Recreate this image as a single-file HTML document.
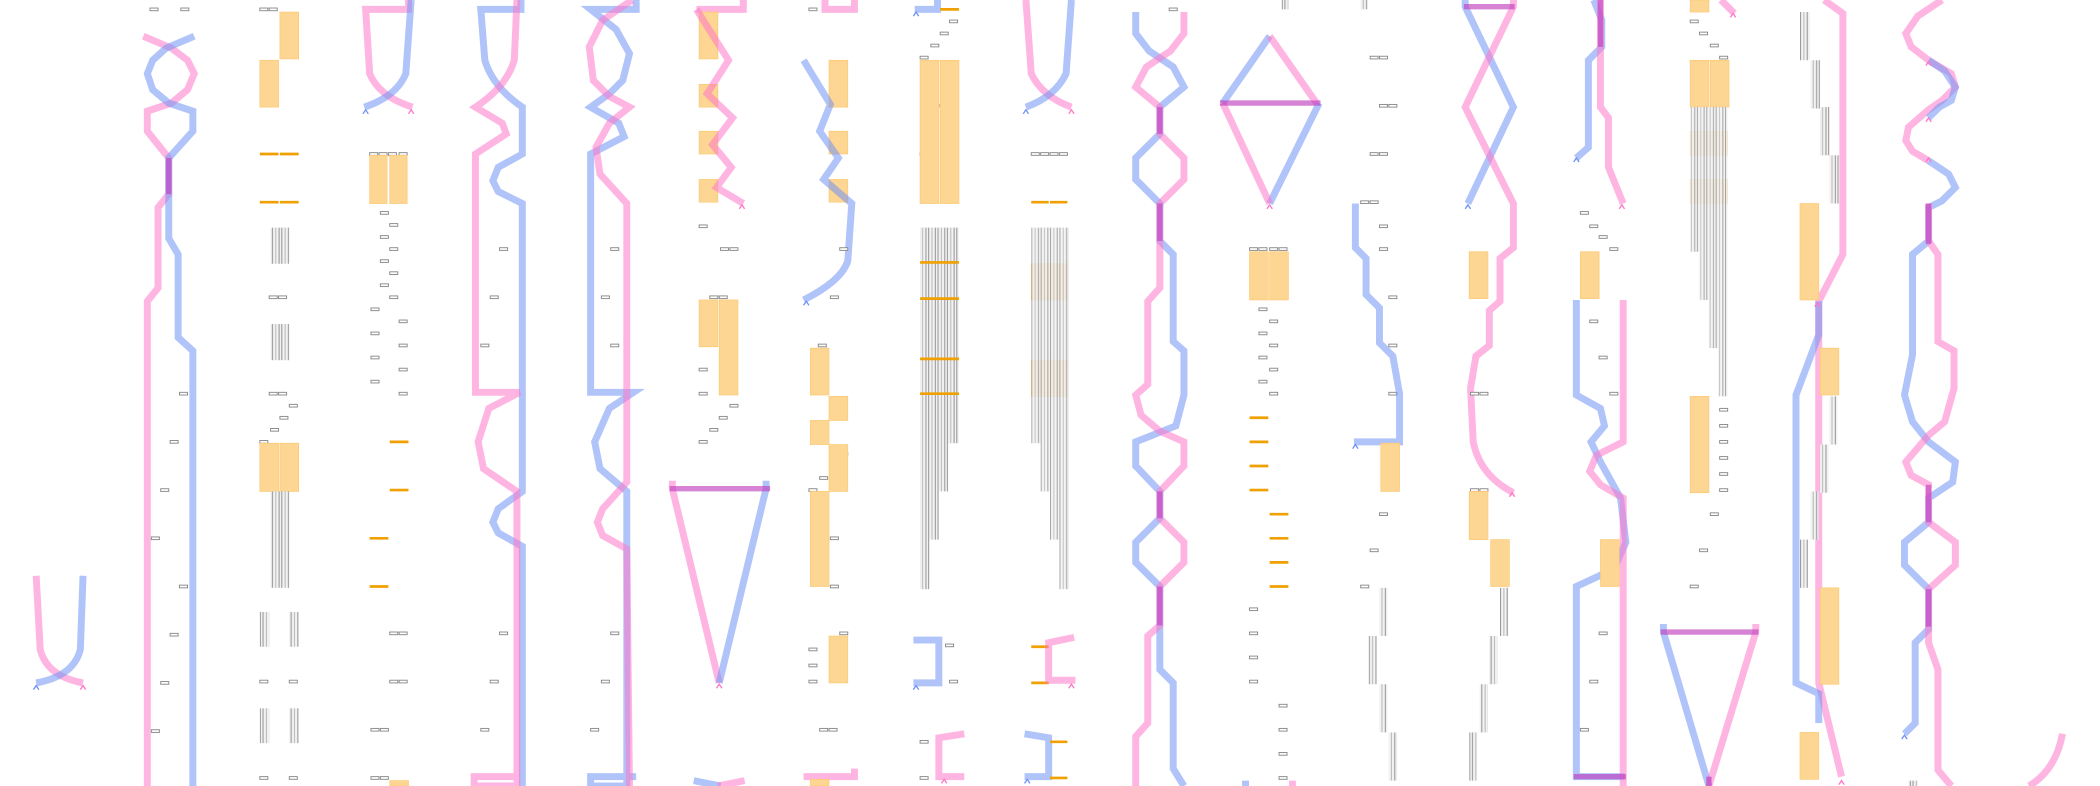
<!DOCTYPE html>
<html><head><meta charset="utf-8"><style>
html,body{margin:0;padding:0;background:#fff;width:2100px;height:786px;overflow:hidden}
svg{display:block}
.p{fill:none;stroke:#ff78c8;stroke-opacity:.55;stroke-width:5.2;stroke-linejoin:miter}
.b{fill:none;stroke:#6f93f5;stroke-opacity:.55;stroke-width:5.2;stroke-linejoin:miter}
.m{fill:none;stroke:#c040c0;stroke-opacity:.65;stroke-width:6}
.o{fill:#fed693;stroke:#fbc870;stroke-width:.5}
.ol{stroke:#f0a000;stroke-width:2}
.s{fill:#fff;stroke:#888;stroke-width:.7}
.g{fill:url(#gp)}
.ap{fill:none;stroke:#ff78c8;stroke-width:1}
.ab{fill:none;stroke:#6f93f5;stroke-width:1}
</style></head><body>
<svg width="2100" height="786" viewBox="0 0 1568 587" preserveAspectRatio="none" xmlns="http://www.w3.org/2000/svg">
<defs>
<pattern id="gp" width="7" height="10" patternUnits="userSpaceOnUse">
<rect width="7" height="10" fill="#f2f2f2"/>
<rect x="0" width="0.8" height="10" fill="#999"/>
<rect x="2.5" width="0.8" height="10" fill="#bbb"/>
<rect x="5" width="0.8" height="10" fill="#999"/>
</pattern>
</defs>

<!-- col1 -->
<path class="p" d="M27,430 L30,485 Q35,505 62,510"/>
<path class="b" d="M62,430 L60,485 Q55,505 27,510"/>
<path class="ab" d="M25,515 l2,-3 l2,3"/><path class="ap" d="M60,515 l2,-3 l2,3"/>

<!-- col2 -->
<g class="s"><rect x="112" y="6" width="6" height="2"/><rect x="135" y="6" width="6" height="2"/></g>
<path class="p" d="M107,27 L128,36 L140,45 L145,55 L140,67 L128,77 L110,83 L110,98 L126,118 L126,145 L118,155 L118,215 L110,225 L110,587"/>
<path class="b" d="M145,27 L124,36 L114,45 L110,55 L114,67 L126,77 L144,83 L144,98 L126,118 L126,178 L133,190 L133,252 L144,262 L144,587"/>
<path class="m" d="M126,118 L126,145" style="stroke-width:4"/>
<g class="s"><rect x="134" y="293" width="6" height="2"/><rect x="127" y="329" width="6" height="2"/><rect x="120" y="365" width="6" height="2"/><rect x="113" y="401" width="6" height="2"/><rect x="134" y="437" width="6" height="2"/><rect x="127" y="473" width="6" height="2"/><rect x="120" y="509" width="6" height="2"/><rect x="113" y="545" width="6" height="2"/></g>

<!-- col3 -->
<g class="s"><rect x="194" y="6" width="6" height="2"/><rect x="201" y="6" width="6" height="2"/></g>
<rect class="o" x="209" y="9" width="14" height="35"/><rect class="o" x="194" y="45" width="14" height="35"/>
<line class="ol" x1="194" y1="115" x2="208" y2="115"/><line class="ol" x1="209" y1="115" x2="223" y2="115"/>
<line class="ol" x1="194" y1="151" x2="208" y2="151"/><line class="ol" x1="209" y1="151" x2="223" y2="151"/>
<rect class="g" x="202" y="170" width="14" height="27"/><rect class="g" x="202" y="242" width="14" height="27"/>
<g class="s"><rect x="201" y="221" width="6" height="2"/><rect x="208" y="221" width="6" height="2"/><rect x="201" y="293" width="6" height="2"/><rect x="208" y="293" width="6" height="2"/><rect x="216" y="302" width="6" height="2"/><rect x="209" y="311" width="6" height="2"/><rect x="202" y="320" width="6" height="2"/><rect x="194" y="329" width="6" height="2"/></g>
<rect class="o" x="194" y="331" width="14" height="36"/><rect class="o" x="209" y="331" width="14" height="36"/>
<rect class="g" x="202" y="367" width="14" height="72"/>
<rect class="g" x="194" y="457" width="7" height="26"/><rect class="g" x="216" y="457" width="7" height="26"/>
<rect class="g" x="194" y="529" width="7" height="26"/><rect class="g" x="216" y="529" width="7" height="26"/>
<g class="s"><rect x="194" y="508" width="6" height="2"/><rect x="216" y="508" width="6" height="2"/><rect x="194" y="580" width="6" height="2"/><rect x="216" y="580" width="6" height="2"/></g>

<!-- col4 -->
<path class="p" d="M305,0 L305,7 L273,7 L276,55 Q283,72 308,80"/>
<path class="b" d="M307,0 L303,55 Q296,72 272,80"/>
<path class="ab" d="M271,85 l2,-3 l2,3"/><path class="ap" d="M305,85 l2,-3 l2,3"/>
<g class="s"><rect x="276" y="114" width="6" height="2"/><rect x="283" y="114" width="6" height="2"/><rect x="290" y="114" width="6" height="2"/><rect x="298" y="114" width="6" height="2"/></g>
<rect class="o" x="276" y="116" width="13" height="36"/><rect class="o" x="291" y="116" width="13" height="36"/>
<g class="s"><rect x="284" y="158" width="6" height="2"/><rect x="291" y="167" width="6" height="2"/><rect x="284" y="176" width="6" height="2"/><rect x="291" y="185" width="6" height="2"/><rect x="284" y="194" width="6" height="2"/><rect x="291" y="203" width="6" height="2"/><rect x="284" y="212" width="6" height="2"/><rect x="291" y="221" width="6" height="2"/><rect x="277" y="230" width="6" height="2"/><rect x="298" y="239" width="6" height="2"/><rect x="277" y="248" width="6" height="2"/><rect x="298" y="257" width="6" height="2"/><rect x="277" y="266" width="6" height="2"/><rect x="298" y="275" width="6" height="2"/><rect x="277" y="284" width="6" height="2"/><rect x="298" y="293" width="6" height="2"/></g>
<line class="ol" x1="291" y1="330" x2="305" y2="330"/><line class="ol" x1="291" y1="366" x2="305" y2="366"/>
<line class="ol" x1="276" y1="402" x2="290" y2="402"/><line class="ol" x1="276" y1="438" x2="290" y2="438"/>
<g class="s"><rect x="291" y="472" width="6" height="2"/><rect x="298" y="472" width="6" height="2"/><rect x="291" y="508" width="6" height="2"/><rect x="298" y="508" width="6" height="2"/><rect x="277" y="544" width="6" height="2"/><rect x="284" y="544" width="6" height="2"/><rect x="277" y="580" width="6" height="2"/><rect x="284" y="580" width="6" height="2"/></g>
<rect class="o" x="291" y="583" width="14" height="4"/>

<!-- col5 -->
<path class="b" d="M389,0 L389,7 L359,7 L362,45 Q368,65 390,80 L390,115 L372,125 L368,135 L372,143 L390,152 L390,367 L372,380 L368,390 L372,398 L390,408 L390,587"/>
<path class="p" d="M386,0 L384,45 Q378,65 355,80 L375,92 L378,100 L355,115 L355,293 L388,293 L365,305 L357,330 L361,350 L386,367 L386,587 L354,587 L354,580 L388,580"/>
<g class="s"><rect x="373" y="185" width="6" height="2"/><rect x="366" y="221" width="6" height="2"/><rect x="359" y="257" width="6" height="2"/><rect x="373" y="472" width="6" height="2"/><rect x="366" y="508" width="6" height="2"/><rect x="359" y="544" width="6" height="2"/></g>

<!-- col6 -->
<path class="b" d="M475,0 L475,7 L441,7 L460,22 L470,40 L465,60 L455,70 L441,80 L462,92 L466,102 L441,115 L441,293 L473,293 L455,305 L444,330 L448,350 L468,367 L468,587 L441,587 L441,580 L475,580"/>
<path class="p" d="M472,0 L450,15 L440,35 L443,60 L455,72 L470,80 L455,92 L445,110 L448,130 L468,152 L468,293 L468,360 L450,380 L446,390 L450,400 L468,410 L470,587"/>
<g class="s"><rect x="456" y="185" width="6" height="2"/><rect x="449" y="221" width="6" height="2"/><rect x="456" y="257" width="6" height="2"/><rect x="456" y="472" width="6" height="2"/><rect x="449" y="508" width="6" height="2"/><rect x="441" y="544" width="6" height="2"/></g>

<!-- col7 -->
<path class="p" d="M555,0 L555,7 L520,7"/>
<rect class="o" x="522" y="9" width="14" height="35"/><rect class="o" x="522" y="63" width="14" height="17"/><rect class="o" x="522" y="98" width="14" height="17"/><rect class="o" x="522" y="134" width="14" height="17"/>
<path class="p" d="M520,7 L544,45 L528,70 L547,88 L532,108 L546,125 L535,140 L555,152"/>
<path class="ap" d="M552,156 l2,-3 l2,3"/>
<g class="s"><rect x="522" y="168" width="6" height="2"/><rect x="538" y="185" width="6" height="2"/><rect x="545" y="185" width="6" height="2"/><rect x="530" y="221" width="6" height="2"/><rect x="537" y="221" width="6" height="2"/><rect x="522" y="275" width="6" height="2"/><rect x="522" y="293" width="6" height="2"/><rect x="545" y="302" width="6" height="2"/><rect x="537" y="311" width="6" height="2"/><rect x="530" y="320" width="6" height="2"/><rect x="522" y="329" width="6" height="2"/></g>
<rect class="o" x="522" y="224" width="14" height="35"/><rect class="o" x="537" y="224" width="14" height="71"/>
<path class="p" d="M502,359 L502,365 L537,510"/>
<path class="b" d="M572,359 L572,365 L537,510"/>
<path class="m" d="M500,365 L575,365" style="stroke-width:4"/>
<path class="ap" d="M535,514 l2,-3 l2,3"/>
<path class="b" d="M518,583 L538,587"/><path class="p" d="M556,583 L536,587"/>

<!-- col8 -->
<path class="p" d="M638,0 L638,7 L616,7 L616,0"/>
<rect class="o" x="619" y="45" width="14" height="35"/><rect class="o" x="619" y="98" width="14" height="17"/><rect class="o" x="619" y="134" width="14" height="17"/>
<path class="b" d="M600,45 L620,78 L612,98 L626,118 L615,134 L636,152 L633,195 Q628,210 600,224"/>
<path class="ab" d="M600,228 l2,-3 l2,3"/>
<g class="s"><rect x="604" y="6" width="6" height="2"/><rect x="620" y="221" width="6" height="2"/><rect x="627" y="185" width="6" height="2"/><rect x="611" y="257" width="6" height="2"/><rect x="627" y="338" width="6" height="2"/><rect x="620" y="347" width="6" height="2"/><rect x="612" y="356" width="6" height="2"/><rect x="604" y="365" width="6" height="2"/><rect x="612" y="383" width="6" height="2"/><rect x="620" y="401" width="6" height="2"/><rect x="612" y="419" width="6" height="2"/><rect x="620" y="437" width="6" height="2"/><rect x="627" y="472" width="6" height="2"/><rect x="604" y="484" width="6" height="2"/><rect x="604" y="496" width="6" height="2"/><rect x="604" y="508" width="6" height="2"/><rect x="612" y="544" width="6" height="2"/><rect x="619" y="544" width="6" height="2"/></g>
<rect class="o" x="605" y="260" width="14" height="35"/><rect class="o" x="619" y="296" width="14" height="18"/><rect class="o" x="605" y="314" width="14" height="18"/><rect class="o" x="619" y="332" width="14" height="35"/><rect class="o" x="605" y="367" width="14" height="71"/><rect class="o" x="619" y="475" width="14" height="35"/>
<path class="p" d="M600,580 L638,580 L638,574"/><rect class="o" x="605" y="582" width="14" height="5"/>

<!-- col9 -->
<path class="b" d="M700,0 L700,7 L683,7"/><path class="ab" d="M682,12 l2,-3 l2,3"/>
<line class="ol" x1="702" y1="7" x2="716" y2="7"/>
<g class="s"><rect x="709" y="15" width="6" height="2"/><rect x="702" y="24" width="6" height="2"/><rect x="695" y="33" width="6" height="2"/><rect x="687" y="42" width="6" height="2"/><rect x="695" y="78" width="6" height="2"/><rect x="702" y="78" width="6" height="2"/><rect x="687" y="114" width="6" height="2"/><rect x="709" y="114" width="6" height="2"/></g>
<rect class="o" x="687" y="45" width="14" height="107"/><rect class="o" x="702" y="45" width="14" height="107"/>
<rect class="g" x="687" y="170" width="7" height="270"/><rect class="g" x="694" y="170" width="7" height="233"/><rect class="g" x="701" y="170" width="7" height="197"/><rect class="g" x="708" y="170" width="8" height="161"/>
<g class="ol"><line x1="687" y1="196" x2="716" y2="196"/><line x1="687" y1="223" x2="716" y2="223"/><line x1="687" y1="268" x2="716" y2="268"/><line x1="687" y1="294" x2="716" y2="294"/></g>
<path class="b" d="M682,478 L701,478 L701,510 L682,510"/><path class="ab" d="M682,515 l2,-3 l2,3"/>
<g class="s"><rect x="706" y="481" width="6" height="2"/><rect x="709" y="508" width="6" height="2"/><rect x="687" y="553" width="6" height="2"/><rect x="687" y="580" width="6" height="2"/></g>
<path class="p" d="M720,548 L701,551 L701,580 L720,580"/><path class="ap" d="M703,585 l2,-3 l2,3"/>

<!-- col10 -->
<path class="p" d="M766,0 L770,55 Q778,72 800,80"/>
<path class="b" d="M800,0 L796,55 Q788,72 766,80"/>
<path class="ab" d="M764,85 l2,-3 l2,3"/><path class="ap" d="M798,85 l2,-3 l2,3"/>
<g class="s"><rect x="770" y="114" width="6" height="2"/><rect x="777" y="114" width="6" height="2"/><rect x="784" y="114" width="6" height="2"/><rect x="791" y="114" width="6" height="2"/></g>
<line class="ol" x1="770" y1="151" x2="783" y2="151"/><line class="ol" x1="784" y1="151" x2="797" y2="151"/>
<rect class="o" x="770" y="197" width="27" height="27"/><rect class="o" x="770" y="269" width="27" height="27"/>
<rect class="g" x="770" y="170" width="7" height="161" style="opacity:.85"/><rect class="g" x="777" y="170" width="7" height="197" style="opacity:.85"/><rect class="g" x="784" y="170" width="7" height="233" style="opacity:.85"/><rect class="g" x="791" y="170" width="7" height="270" style="opacity:.85"/>
<line class="ol" x1="770" y1="483" x2="783" y2="483"/><line class="ol" x1="770" y1="510" x2="783" y2="510"/>
<path class="p" d="M802,476 L783,480 L783,508 L803,508"/><path class="ap" d="M798,514 l2,-3 l2,3"/>
<path class="b" d="M765,548 L783,551 L783,580 L765,580"/><path class="ab" d="M765,585 l2,-3 l2,3"/>
<line class="ol" x1="784" y1="554" x2="797" y2="554"/><line class="ol" x1="784" y1="581" x2="797" y2="581"/>

<!-- col11 -->
<g class="s"><rect x="873" y="6" width="6" height="2"/></g>
<path class="b" d="M848,9 L848,25 L858,38 L876,50 L884,65 L866,80 L866,100 L848,118 L848,134 L866,152 L866,180 L876,190 L876,255 L884,262 L884,295 L878,318 L848,330 L848,348 L866,367 L866,387 L848,405 L848,420 L866,438 L866,500 L876,510 L876,574 L884,587"/>
<path class="p" d="M884,9 L884,25 L874,38 L856,50 L848,65 L866,80 L866,100 L884,118 L884,134 L866,152 L866,180 L866,215 L857,225 L857,287 L848,295 L852,310 L866,322 L884,330 L884,348 L866,367 L866,387 L884,405 L884,420 L866,438 L866,467 L857,475 L857,540 L848,550 L848,587"/>
<path class="m" d="M866,80 L866,100 M866,152 L866,180 M866,367 L866,387 M866,438 L866,467" style="stroke-width:4"/>

<!-- col12 -->
<rect class="g" x="957" y="0" width="5" height="7"/>
<path class="b" d="M948,27 L913,77 M985,77 L948,152"/>
<path class="p" d="M948,27 L983,77 M913,77 L948,152"/>
<path class="m" d="M911,77 L986,77" style="stroke-width:4"/>
<path class="ap" d="M946,156 l2,-3 l2,3"/>
<g class="s"><rect x="933" y="185" width="6" height="2"/><rect x="940" y="185" width="6" height="2"/><rect x="948" y="185" width="6" height="2"/><rect x="955" y="185" width="6" height="2"/><rect x="940" y="230" width="6" height="2"/><rect x="948" y="239" width="6" height="2"/><rect x="940" y="248" width="6" height="2"/><rect x="948" y="257" width="6" height="2"/><rect x="940" y="266" width="6" height="2"/><rect x="948" y="275" width="6" height="2"/><rect x="940" y="284" width="6" height="2"/><rect x="948" y="293" width="6" height="2"/><rect x="933" y="454" width="6" height="2"/><rect x="933" y="472" width="6" height="2"/><rect x="933" y="490" width="6" height="2"/><rect x="933" y="508" width="6" height="2"/><rect x="955" y="526" width="6" height="2"/><rect x="955" y="544" width="6" height="2"/><rect x="955" y="562" width="6" height="2"/><rect x="955" y="580" width="6" height="2"/></g>
<rect class="o" x="933" y="188" width="14" height="36"/><rect class="o" x="948" y="188" width="14" height="36"/>
<g class="ol"><line x1="933" y1="312" x2="947" y2="312"/><line x1="933" y1="330" x2="947" y2="330"/><line x1="933" y1="348" x2="947" y2="348"/><line x1="933" y1="366" x2="947" y2="366"/><line x1="948" y1="384" x2="962" y2="384"/><line x1="948" y1="402" x2="962" y2="402"/><line x1="948" y1="420" x2="962" y2="420"/><line x1="948" y1="438" x2="962" y2="438"/></g>
<path class="b" d="M930,583 L930,587"/><path class="p" d="M965,583 L965,587"/>

<!-- col13 -->
<rect class="g" x="1016" y="0" width="5" height="7"/>
<g class="s"><rect x="1023" y="42" width="6" height="2"/><rect x="1030" y="42" width="6" height="2"/><rect x="1030" y="78" width="6" height="2"/><rect x="1037" y="78" width="6" height="2"/><rect x="1023" y="114" width="6" height="2"/><rect x="1030" y="114" width="6" height="2"/><rect x="1016" y="150" width="6" height="2"/><rect x="1023" y="150" width="6" height="2"/><rect x="1030" y="168" width="6" height="2"/><rect x="1030" y="185" width="6" height="2"/><rect x="1037" y="221" width="6" height="2"/><rect x="1037" y="257" width="6" height="2"/><rect x="1037" y="293" width="6" height="2"/><rect x="1030" y="383" width="6" height="2"/><rect x="1023" y="410" width="6" height="2"/><rect x="1016" y="437" width="6" height="2"/></g>
<path class="b" d="M1012,152 L1012,185 L1020,193 L1020,220 L1030,230 L1030,256 L1040,266 L1045,294 L1045,330 L1011,330"/>
<path class="ab" d="M1010,335 l2,-3 l2,3"/>
<rect class="o" x="1031" y="331" width="14" height="36"/>
<rect class="g" x="1030" y="439" width="6" height="36"/><rect class="g" x="1022" y="475" width="6" height="36"/><rect class="g" x="1030" y="511" width="6" height="36"/><rect class="g" x="1037" y="547" width="6" height="36"/>

<!-- col14 -->
<path class="b" d="M1094,0 L1094,5 L1130,80 L1096,152"/>
<path class="p" d="M1130,0 L1130,5 L1094,80 L1130,152 L1130,185 L1120,193 L1120,225 L1112,232 L1112,258 L1102,266 L1098,290 L1100,330 Q1105,355 1130,368"/>
<path class="m" d="M1093,5 L1131,5" style="stroke-width:4"/>
<path class="ab" d="M1094,156 l2,-3 l2,3"/><path class="ap" d="M1127,371 l2,-3 l2,3"/>
<rect class="o" x="1097" y="188" width="14" height="35"/>
<g class="s"><rect x="1098" y="293" width="6" height="2"/><rect x="1105" y="293" width="6" height="2"/><rect x="1098" y="365" width="6" height="2"/><rect x="1105" y="365" width="6" height="2"/></g>
<rect class="o" x="1097" y="367" width="14" height="36"/><rect class="o" x="1113" y="403" width="14" height="35"/>
<rect class="g" x="1120" y="439" width="6" height="36"/><rect class="g" x="1112" y="475" width="6" height="36"/><rect class="g" x="1105" y="511" width="6" height="36"/><rect class="g" x="1097" y="547" width="6" height="36"/>

<!-- col15 -->
<path class="b" d="M1190,0 L1196,15 L1196,35 L1186,45 L1186,110 L1177,118"/>
<path class="p" d="M1195,0 L1195,80 L1201,88 L1201,125 L1212,152"/>
<path class="m" d="M1195,0 L1195,35" style="stroke-width:4"/>
<path class="ab" d="M1175,121 l2,-3 l2,3"/><path class="ap" d="M1209,156 l2,-3 l2,3"/>
<g class="s"><rect x="1180" y="158" width="6" height="2"/><rect x="1187" y="168" width="6" height="2"/><rect x="1194" y="176" width="6" height="2"/><rect x="1202" y="185" width="6" height="2"/><rect x="1187" y="239" width="6" height="2"/><rect x="1194" y="266" width="6" height="2"/><rect x="1202" y="293" width="6" height="2"/><rect x="1194" y="472" width="6" height="2"/><rect x="1187" y="508" width="6" height="2"/><rect x="1180" y="544" width="6" height="2"/></g>
<rect class="o" x="1180" y="188" width="14" height="35"/>
<path class="b" d="M1177,224 L1177,295 L1195,305 L1198,318 L1188,330 L1195,345 L1210,372 L1214,405 L1205,425 L1177,438 L1177,580 L1213,580"/>
<path class="p" d="M1212,224 L1212,330 L1192,340 L1187,352 L1195,362 L1212,372 L1212,587"/>
<rect class="o" x="1195" y="403" width="14" height="35"/>
<path class="m" d="M1175,580 L1214,580" style="stroke-width:4"/>

<!-- col16 -->
<rect class="o" x="1262" y="0" width="14" height="9"/>
<path class="p" d="M1285,0 L1295,10"/><path class="ap" d="M1292,13 l2,-3 l2,3"/>
<g class="s"><rect x="1262" y="15" width="6" height="2"/><rect x="1269" y="24" width="6" height="2"/><rect x="1277" y="33" width="6" height="2"/><rect x="1284" y="42" width="6" height="2"/></g>
<rect class="o" x="1262" y="45" width="14" height="35"/><rect class="o" x="1277" y="45" width="14" height="35"/>
<rect class="o" x="1262" y="98" width="28" height="18" style="opacity:.7"/><rect class="o" x="1262" y="134" width="28" height="18" style="opacity:.7"/>
<rect class="g" x="1262" y="80" width="7" height="108" style="opacity:.85"/><rect class="g" x="1269" y="80" width="7" height="144" style="opacity:.85"/><rect class="g" x="1276" y="80" width="7" height="180" style="opacity:.85"/><rect class="g" x="1283" y="80" width="7" height="216" style="opacity:.85"/>
<rect class="o" x="1262" y="296" width="14" height="72"/>
<g class="s"><rect x="1284" y="305" width="6" height="2"/><rect x="1284" y="317" width="6" height="2"/><rect x="1284" y="329" width="6" height="2"/><rect x="1284" y="341" width="6" height="2"/><rect x="1284" y="353" width="6" height="2"/><rect x="1284" y="365" width="6" height="2"/><rect x="1277" y="383" width="6" height="2"/><rect x="1269" y="410" width="6" height="2"/><rect x="1262" y="437" width="6" height="2"/></g>
<path class="b" d="M1242,466 L1242,472 L1276,587"/>
<path class="p" d="M1311,466 L1311,472 L1276,587"/>
<path class="m" d="M1240,472 L1313,472 M1276,580 L1276,587" style="stroke-width:4"/>

<!-- col17 -->
<rect class="g" x="1344" y="9" width="7" height="36"/><rect class="g" x="1352" y="45" width="7" height="36"/><rect class="g" x="1359" y="80" width="7" height="36"/><rect class="g" x="1366" y="116" width="7" height="36"/>
<path class="p" d="M1362,0 L1376,10 L1376,190 L1358,225 L1358,510 L1375,580"/>
<path class="ap" d="M1373,586 l2,-3 l2,3"/>
<path class="b" d="M1358,225 L1358,250 L1341,295 L1341,510 L1358,518 L1358,540"/>
<rect class="o" x="1344" y="152" width="14" height="72"/><rect class="o" x="1359" y="260" width="14" height="35"/><rect class="o" x="1359" y="439" width="14" height="72"/><rect class="o" x="1344" y="547" width="14" height="35"/>
<rect class="g" x="1366" y="296" width="6" height="36"/><rect class="g" x="1359" y="332" width="6" height="36"/><rect class="g" x="1352" y="367" width="6" height="36"/><rect class="g" x="1344" y="403" width="6" height="36"/>
<path class="ap" d="M1355,229 l2,-3 l2,3"/>

<!-- col18 -->
<path class="p" d="M1450,0 L1432,12 L1423,25 L1427,35 L1440,45 L1457,55 L1460,65 L1450,75 L1440,82 L1425,95 L1423,105 L1428,113 L1440,120"/>
<path class="b" d="M1440,45 L1452,53 L1460,65 L1457,75 L1448,80 L1440,88 M1440,120 L1455,130 L1460,140 L1450,150 L1440,155 L1440,180 L1428,190 L1428,265 L1422,295 L1428,315 L1440,330 L1460,345 L1458,360 L1440,372 L1440,390 L1422,405 L1422,422 L1440,440 L1440,470 L1430,480 L1430,540 L1422,548"/>
<path class="p" d="M1440,152 L1440,180 L1447,190 L1447,255 L1459,262 L1459,290 L1452,315 L1440,325 L1423,345 L1427,355 L1440,362 L1440,390 L1460,405 L1460,422 L1440,440 L1440,480 L1447,500 L1447,575 L1457,587"/>
<path class="m" d="M1440,152 L1440,182 M1440,362 L1440,390 M1440,440 L1440,468" style="stroke-width:4"/>
<path class="ab" d="M1420,552 l2,-3 l2,3"/>
<path class="ap" d="M1438,49 l2,-3 l2,3 M1438,91 l2,-3 l2,3 M1438,121 l2,-3 l2,3"/>
<path class="p" d="M1515,587 Q1535,575 1540,548"/>
<rect class="g" x="1425" y="583" width="7" height="4"/>
</svg>
</body></html>
